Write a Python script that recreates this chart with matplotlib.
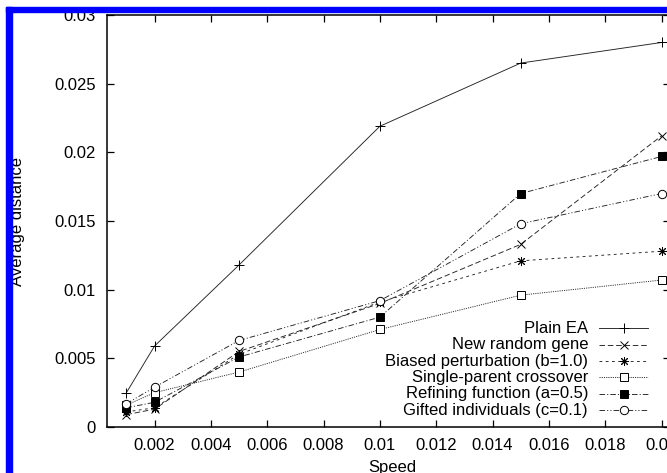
import matplotlib
matplotlib.use("Agg")
from matplotlib import pyplot as plt
from matplotlib.lines import Line2D
from matplotlib.patches import Rectangle

plt.rcParams['font.family'] = ['Liberation Sans', 'DejaVu Sans']
plt.rcParams['lines.scale_dashes'] = False

# data
speed = [0.001, 0.002, 0.005, 0.01, 0.015, 0.02]
plainEA = [0.0025, 0.0059, 0.0118, 0.0219, 0.0265, 0.0280]
newGene = [0.0009, 0.0013, 0.0055, 0.0090, 0.0133, 0.0212]
biased = [0.0011, 0.0014, 0.0053, 0.0091, 0.0121, 0.0128]
singleParent = [0.0016, 0.0025, 0.0040, 0.0071, 0.0096, 0.0107]
refining = [0.0014, 0.0018, 0.0051, 0.0080, 0.0170, 0.0197]
gifted = [0.0017, 0.0029, 0.0063, 0.0092, 0.0148, 0.0170]

labels = ['Plain EA', 'New random gene', 'Biased perturbation (b=1.0)',
          'Single-parent crossover', 'Refining function (a=0.5)',
          'Gifted individuals (c=0.1)']
series = [plainEA, newGene, biased, singleParent, refining, gifted]

xticks = [0.002, 0.004, 0.006, 0.008, 0.01, 0.012, 0.014, 0.016, 0.018, 0.02]
yticks = [0, 0.005, 0.01, 0.015, 0.02, 0.025, 0.03]

styles = [
    dict(ls='-', marker='+', ms=7.5, mfc='none'),
    dict(ls=(0, (4, 2)), marker='x', ms=5.5, mfc='none'),
    dict(ls=(0, (2, 2.5)), marker=(8, 2, 0), ms=6.5, mfc='none'),
    dict(ls=(0, (0.8, 0.8)), marker='s', ms=5.5, mfc='white'),
    dict(ls=(0, (4, 1.5, 0.8, 1.5)), marker='s', ms=6, mfc='black'),
    dict(ls=(0, (4, 1.5, 0.8, 1.5, 0.8, 1.5)), marker='o', ms=6, mfc='white'),
]

W, H = 667, 473
fig = plt.figure(figsize=(W / 100, H / 100), dpi=100)

def fx(px):
    return px / W

def fy(py):
    return 1 - py / H

ax = fig.add_axes([fx(106.7), fy(427), fx(670) - fx(106.7), fy(15) - fy(427)])

for vals, st in zip(series, styles):
    ax.plot(speed, vals, color='#222222', lw=0.65, mec='black', mew=0.7, **st)

ax.set_xlim(0.0003, 0.0203)
ax.set_ylim(0, 0.03)
ax.set_xticks(xticks)
ax.set_yticks(yticks)
ax.set_xticklabels(['%g' % v for v in xticks])
ax.set_yticklabels(['%g' % v for v in yticks])
ax.tick_params(direction='in', length=5, width=0.9, top=True, right=True,
               labelsize=12, pad=8)
for sp in ax.spines.values():
    sp.set_linewidth(1.1)

fig.text(fx(17.5), fy(222), 'Average distance', rotation=90, ha='center',
         va='center', fontsize=12)
fig.text(fx(392), fy(460), 'Speed', ha='center', va='top', fontsize=12)

# legend, gnuplot style: text right aligned, sample on the right
rowY = 328.3
for lab, st in zip(labels, styles):
    fig.text(fx(588), fy(rowY), lab, ha='right', va='center', fontsize=12)
    fig.add_artist(Line2D([fx(599), fx(648)], [fy(rowY), fy(rowY)],
                          color='#222222', lw=0.65, ls=st['ls'],
                          transform=fig.transFigure))
    fig.add_artist(Line2D([fx(623.5)], [fy(rowY)], color='black', lw=0,
                          marker=st['marker'], ms=st['ms'], mfc=st['mfc'],
                          mec='black', mew=0.7, transform=fig.transFigure))
    rowY += 16.4

# blue frame on top and left
fig.add_artist(Rectangle((fx(6), 0), fx(12) - fx(6), fy(7), color='#0000ff',
                         transform=fig.transFigure, zorder=10))
fig.add_artist(Rectangle((fx(6), fy(12.5)), 1, fy(7) - fy(12.5), color='#0000ff',
                         transform=fig.transFigure, zorder=10))
fig.add_artist(Rectangle((0, fy(7)), 1, 1, color='white',
                         transform=fig.transFigure, zorder=9))

fig.savefig('out.png', dpi=100)
